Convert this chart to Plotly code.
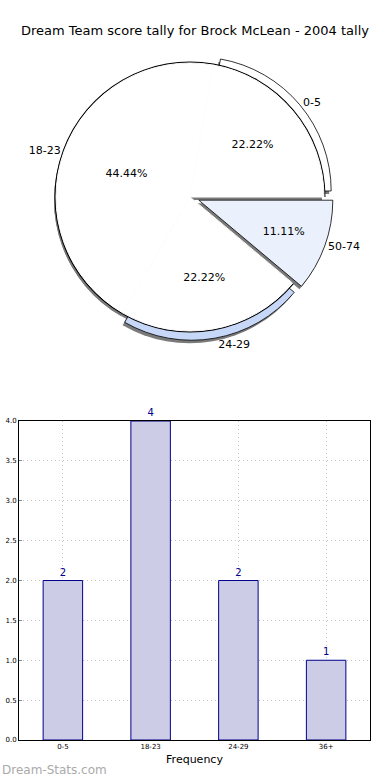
import plotly.graph_objects as go

# ---- data ----
pie_labels = ["0-5", "18-23", "24-29", "50-74"]
pie_values = [2, 4, 2, 1]
pie_colors = ["#ffffff", "#ffffff", "#c6d7f7", "#eaf0fc"]
pie_pull = [0.07, 0.0, 0.07, 0.07]

bar_cats = ["0-5", "18-23", "24-29", "36+"]
bar_vals = [2, 4, 2, 1]

W, H = 390, 780
ml, mr, mt, mb = 19, 20, 0, 40
pw, ph = W - ml - mr, H - mt - mb

def dom(cx, cy, side, dx=0, dy=0):
    # cx, cy in pixels (from page top-left); returns domain in paper fractions
    x0 = (cx + dx - ml - side / 2) / pw
    x1 = (cx + dx - ml + side / 2) / pw
    yb = (H - mb) - (cy + dy)
    y0 = (yb - side / 2) / ph
    y1 = (yb + side / 2) / ph
    return dict(x=[x0, x1], y=[y0, y1])

cx, cy, r = 190, 197, 134
maxpull = max(pie_pull)
side_pulled = 2 * r * (1 + maxpull)
side_flat = 2 * r
# matplotlib-like start: first slice begins at 3 o'clock, counterclockwise
rot = 90 - 360 * pie_values[0] / sum(pie_values)

font = "DejaVu Sans"
fig = go.Figure()
common = dict(labels=pie_labels, values=pie_values, sort=False, rotation=rot,
              direction="counterclockwise", showlegend=False, hoverinfo="skip")
clear = "rgba(0,0,0,0)"

# shadows
fig.add_trace(go.Pie(**common, pull=pie_pull,
                     marker=dict(colors=["#7a7a7a"] * 4, line=dict(width=0)),
                     textinfo="none",
                     domain=dom(cx, cy, side_pulled, -2, 3)))
fig.add_trace(go.Pie(**common,
                     marker=dict(colors=["#7a7a7a", "#7a7a7a", "#7a7a7a", clear], line=dict(width=0)),
                     textinfo="none",
                     domain=dom(cx, cy, side_flat, -2, 3)))

# exploded pie with outside labels
fig.add_trace(go.Pie(**common, pull=pie_pull,
                     marker=dict(colors=pie_colors, line=dict(color="black", width=0.8)),
                     textinfo="label", textposition="outside",
                     outsidetextfont=dict(family=font, size=11, color="black"),
                     domain=dom(cx, cy, side_pulled)))

# outline disc for the overlapping flat pie
fig.add_trace(go.Pie(**common,
                     marker=dict(colors=["black", "black", "black", clear], line=dict(width=0)),
                     textinfo="none",
                     domain=dom(cx, cy, side_flat + 3)))

# overlapping flat pie with percentages
fig.add_trace(go.Pie(**common,
                     marker=dict(colors=["#ffffff", "#ffffff", "#ffffff", clear],
                                 line=dict(color=["#ffffff", "#ffffff", "#ffffff", clear], width=1)),
                     textinfo="percent", textposition="inside", texttemplate="%{percent:.2%}",
                     insidetextfont=dict(family=font, size=11, color="black"),
                     insidetextorientation="horizontal",
                     domain=dom(cx, cy, side_flat)))

# bar chart
fig.add_trace(go.Bar(x=bar_cats, y=bar_vals, width=0.45,
                     marker=dict(color="#ccccE6", line=dict(color="#00008b", width=1)),
                     text=bar_vals, textposition="outside", cliponaxis=False,
                     textfont=dict(family=font, size=10, color="#00008b"),
                     showlegend=False, hoverinfo="skip"))

grid = dict(showgrid=True, gridcolor="#c4c4c4", griddash="1px,3px", gridwidth=1)
fig.update_layout(
    width=W, height=H,
    margin=dict(l=ml, r=mr, t=mt, b=mb, autoexpand=False),
    paper_bgcolor="white", plot_bgcolor="white",
    font=dict(family=font, color="black"),
    title=dict(text="Dream Team score tally for Brock McLean - 2004 tally",
               x=195 / W, xanchor="center", y=1 - 30 / H, yanchor="middle",
               font=dict(family=font, size=13, color="black")),
    xaxis=dict(domain=[0, 1], range=[-0.5, 3.5], **grid, showline=True, linecolor="black",
               mirror=True, ticks="", tickfont=dict(size=7), automargin=False,
               title=dict(text="Frequency", font=dict(size=11), standoff=4), zeroline=False),
    yaxis=dict(domain=[0, (H - mb - 421) / ph], range=[0, 4], dtick=0.5, tickformat=".1f",
               **grid, showline=True, linecolor="black", mirror=True, automargin=False,
               ticks="inside", ticklen=3, tickcolor="#888", tickfont=dict(size=7), zeroline=False),
    bargap=0.55,
    annotations=[dict(text="Dream-Stats.com", xref="paper", yref="paper",
                      x=-ml / pw, y=(H - mb - 770) / ph, xanchor="left", yanchor="middle",
                      showarrow=False, font=dict(family=font, size=12, color="#aaaaaa"))],
)

fig.write_html("out.html", config={"displayModeBar": False, "staticPlot": True},
               post_script="document.body.style.margin='0px';document.body.style.padding='0px';")
